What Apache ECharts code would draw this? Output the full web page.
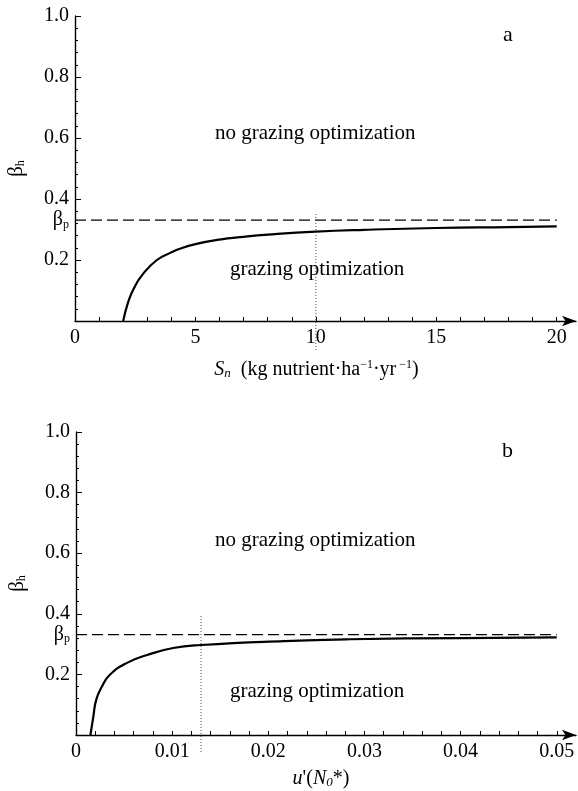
<!DOCTYPE html>
<html>
<head>
<meta charset="utf-8">
<script src="https://cdn.jsdelivr.net/npm/echarts@6/dist/echarts.min.js"></script>
<style>
  html, body { margin: 0; padding: 0; background: #fff; }
  #main { width: 578px; height: 791px; }
</style>
</head>
<body>
<div id="main"></div>
<script>
// beta_p threshold (dashed line), same in both panels
const betaP = 0.331;

// panel a: beta_h against S_n
const snValues = [2, 2.2, 2.43, 2.8, 3.4, 4, 4.35, 5, 6, 7, 8, 10, 12, 15, 18, 20];
const betaHa = [0, 0.06, 0.105, 0.152, 0.2, 0.225, 0.237, 0.252, 0.267, 0.276, 0.283, 0.293, 0.299, 0.305, 0.308, 0.31];
const snLabels = [0, 5, 10, 15, 20];
const snTicks = [0, 1, 2, 3, 4, 5, 6, 7, 8, 9, 10, 11, 12, 13, 14, 15, 16, 17, 18, 19, 20];
const snMarker = 10;

// panel b: beta_h against u'(N0*)
const uValues = [0.0015, 0.0018, 0.0021, 0.0027, 0.0035, 0.0053, 0.0074, 0.0101, 0.013, 0.0216, 0.0285, 0.04, 0.05];
const betaHb = [0, 0.06, 0.116, 0.16, 0.198, 0.238, 0.264, 0.287, 0.297, 0.31, 0.316, 0.32, 0.322];
const uLabels = [0, 0.01, 0.02, 0.03, 0.04, 0.05];
const uTicks = [0, 0.002, 0.004, 0.006, 0.008, 0.01, 0.012, 0.014, 0.016, 0.018, 0.02, 0.022, 0.024, 0.026, 0.028,
  0.03, 0.032, 0.034, 0.036, 0.038, 0.04, 0.042, 0.044, 0.046, 0.048, 0.05];
const uMarker = 0.013;

const yLabels = [0.2, betaP, 0.4, 0.6, 0.8, 1.0];

const FONT = "'Liberation Serif', 'DejaVu Serif', serif";

const chart = echarts.init(document.getElementById('main'));

function xAxisFor(gridIndex, max, labels, ticks, name, rich, padRight, gap) {
  return {
    type: 'value',
    gridIndex: gridIndex,
    min: 0,
    max: max,
    splitLine: { show: false },
    axisLine: {
      onZero: false,
      symbol: ['none', 'arrow'],
      symbolSize: [8, 14],
      lineStyle: { color: '#000', width: 1.4 }
    },
    axisTick: { customValues: ticks, inside: true, length: 4, lineStyle: { color: '#000', width: 1 } },
    axisLabel: {
      customValues: labels,
      margin: 7,
      color: '#000',
      fontFamily: FONT,
      fontSize: 20,
      formatter: (v) => '{n|' + v + '}',
      rich: { n: { fontFamily: FONT, fontSize: 20, color: '#000' } }
    },
    name: name,
    nameLocation: 'middle',
    nameGap: gap,
    nameTextStyle: { color: '#000', fontFamily: FONT, fontSize: 20, padding: [0, padRight, 0, 0], rich: rich }
  };
}

function yAxisFor(gridIndex) {
  return {
    type: 'value',
    gridIndex: gridIndex,
    min: 0,
    max: 1,
    interval: 0.2,
    splitLine: { show: false },
    axisLine: { lineStyle: { color: '#000', width: 1.4 } },
    axisTick: { inside: true, length: 6, lineStyle: { color: '#000', width: 1 } },
    minorTick: { show: true, splitNumber: 5, length: 3, lineStyle: { color: '#000', width: 1 } },
    minorSplitLine: { show: false },
    axisLabel: {
      customValues: yLabels,
      margin: 6,
      color: '#000',
      fontFamily: FONT,
      fontSize: 20,
      formatter: (v) => Math.abs(v - betaP) < 1e-6 ? '{b|β}{s|p}' : '{n|' + v.toFixed(1) + '}',
      rich: {
        n: { fontFamily: FONT, fontSize: 20, color: '#000' },
        b: { fontFamily: FONT, fontSize: 20, color: '#000' },
        s: { fontFamily: FONT, fontSize: 12, color: '#000', verticalAlign: 'bottom', padding: [9, 0, 0, 0] }
      }
    },
    name: '{b|β}{s|h}',
    nameLocation: 'middle',
    nameRotate: 90,
    nameGap: 48,
    nameTextStyle: {
      rich: {
        b: { fontFamily: FONT, fontSize: 21, color: '#000' },
        s: { fontFamily: FONT, fontSize: 12, color: '#000', verticalAlign: 'bottom', padding: [9, 0, 0, 0] }
      }
    }
  };
}

function curve(xs, ys) {
  return xs.map((x, i) => [x, ys[i]]);
}

const richA = {
  it: { fontFamily: FONT, fontSize: 20, fontStyle: 'italic', color: '#000' },
  sub: { fontFamily: FONT, fontSize: 13, fontStyle: 'italic', color: '#000', verticalAlign: 'bottom', padding: [8, 0, 0, 0] },
  t: { fontFamily: FONT, fontSize: 20, color: '#000' },
  sup: { fontFamily: FONT, fontSize: 12, color: '#000', verticalAlign: 'top', padding: [0, 0, 8, 0] }
};

const option = {
  animation: false,
  backgroundColor: '#fff',
  grid: [
    { left: 75, top: 16, height: 305, right: 2, outerBoundsMode: 'none', containLabel: false },
    { left: 76, top: 432, height: 303, right: 2, outerBoundsMode: 'none', containLabel: false }
  ],
  xAxis: [
    xAxisFor(0, 20.8, snLabels, snTicks,
      '{it|S}{sub|n}{t|  (kg nutrient·ha}{sup|−1}{t|·yr}{sup| −1}{t|)}', richA, 18, 38),
    xAxisFor(1, 0.052, uLabels, uTicks,
      "{it|u}{t|'(}{it|N}{sub|0}{t|*)}", richA, 10, 33)
  ],
  yAxis: [yAxisFor(0), yAxisFor(1)],
  series: [
    {
      type: 'line', xAxisIndex: 0, yAxisIndex: 0, symbol: 'none',
      smooth: 0.5,
      lineStyle: { color: '#000', width: 2.2 },
      data: curve(snValues, betaHa)
    },
    {
      type: 'line', xAxisIndex: 0, yAxisIndex: 0, symbol: 'none',
      lineStyle: { color: '#000', width: 1.2, type: [11, 5] },
      data: [[0, betaP], [snLabels[snLabels.length - 1], betaP]]
    },
    {
      type: 'line', xAxisIndex: 0, yAxisIndex: 0, symbol: 'none', clip: false,
      lineStyle: { color: '#444', width: 1, type: [1, 2] },
      data: [[snMarker, -0.095], [snMarker, 0.354]]
    },
    {
      type: 'line', xAxisIndex: 1, yAxisIndex: 1, symbol: 'none',
      smooth: 0.5,
      lineStyle: { color: '#000', width: 2.2 },
      data: curve(uValues, betaHb)
    },
    {
      type: 'line', xAxisIndex: 1, yAxisIndex: 1, symbol: 'none',
      lineStyle: { color: '#000', width: 1.2, type: [11, 5] },
      data: [[0, betaP], [uLabels[uLabels.length - 1], betaP]]
    },
    {
      type: 'line', xAxisIndex: 1, yAxisIndex: 1, symbol: 'none', clip: false,
      lineStyle: { color: '#444', width: 1, type: [1, 2] },
      data: [[uMarker, -0.056], [uMarker, 0.396]]
    }
  ],
  graphic: [
    { type: 'text', left: 503, top: 24, style: { text: 'a', font: "22px " + FONT, fill: '#000' } },
    { type: 'text', left: 215, top: 123, style: { text: 'no grazing optimization', font: "21px " + FONT, fill: '#000' } },
    { type: 'text', left: 230, top: 259, style: { text: 'grazing optimization', font: "21px " + FONT, fill: '#000' } },
    { type: 'text', left: 502, top: 440, style: { text: 'b', font: "22px " + FONT, fill: '#000' } },
    { type: 'text', left: 215, top: 530, style: { text: 'no grazing optimization', font: "21px " + FONT, fill: '#000' } },
    { type: 'text', left: 230, top: 681, style: { text: 'grazing optimization', font: "21px " + FONT, fill: '#000' } }
  ]
};

chart.setOption(option);
</script>
</body>
</html>
